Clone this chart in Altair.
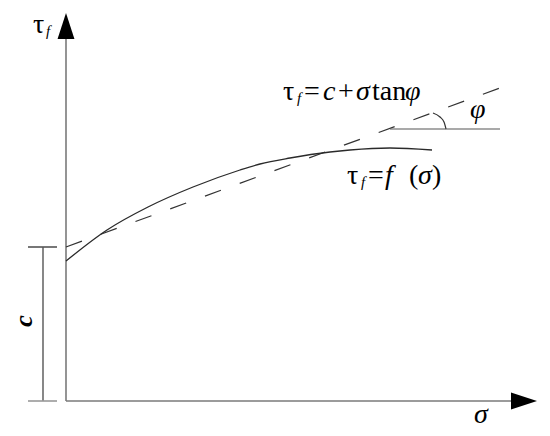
import altair as alt
import pandas as pd

# coordinates in diagram units (sigma to the right, tau upwards, origin at axis corner)
curve_sigma = [0, 41, 82, 127, 174, 194, 224, 264, 284, 324, 366]
curve_tau = [140, 171, 194, 214, 231, 237, 243, 249, 251, 253, 251]

dash_sigma = [0, 434]
dash_tau = [154, 313]

hline_sigma = [324, 434]
hline_tau = [272, 272]

arc_sigma = [367, 374, 378, 380]
arc_tau = [288, 284, 279, 272]

# axes and bracket segments: x, y, x2, y2
seg_x = [0, 0, -23, -38, -38]
seg_y = [0, 0, 0, 154, 0]
seg_x2 = [0, 445, -23, -9, -9]
seg_y2 = [362, 0, 154, 154, 0]
seg_col = ["#7a7a7a", "#7a7a7a", "#6a6a6a", "#555555", "#999999"]

# text pieces
norm_text = ["τ", "τ", "=", "+", "tan", "τ", "=", "(", ")"]
norm_x = [-33, 217, 238, 272, 306, 281, 302, 343, 366]
norm_y = [368, 301, 301, 301, 301, 217, 217, 217, 217]

ital_text = ["c", "σ", "φ", "f", "σ", "φ", "σ"]
ital_x = [257, 290, 339, 319, 352, 404, 408]
ital_y = [301, 301, 301, 217, 217, 283, -22]

sub_text = ["f", "f", "f"]
sub_x = [-20, 231, 295]
sub_y = [365, 298, 214]

XS = alt.Scale(domain=[-58, 476], nice=False, zero=False)
YS = alt.Scale(domain=[-27, 393], nice=False, zero=False)
FONT = "Times New Roman, Liberation Serif, DejaVu Serif, serif"


def X(f="x"):
    return alt.X(f"{f}:Q", scale=XS, axis=None)


def Y(f="y"):
    return alt.Y(f"{f}:Q", scale=YS, axis=None)


segs = pd.DataFrame({"x": seg_x, "y": seg_y, "x2": seg_x2, "y2": seg_y2, "c": seg_col})
seg_layer = alt.Chart(segs).mark_rule(strokeWidth=1.6).encode(
    x=X(), y=Y(), x2="x2:Q", y2="y2:Q", color=alt.Color("c:N", scale=None)
)

curve = alt.Chart(pd.DataFrame({"x": curve_sigma, "y": curve_tau})).mark_line(
    color="#2a2a2a", strokeWidth=1.3, interpolate="monotone"
).encode(x=X(), y=Y())

dash = alt.Chart(pd.DataFrame({"x": dash_sigma, "y": dash_tau})).mark_line(
    color="#333333", strokeWidth=1.2, strokeDash=[17, 20]
).encode(x=X(), y=Y())

hline = alt.Chart(pd.DataFrame({"x": hline_sigma, "y": hline_tau})).mark_line(
    color="#555555", strokeWidth=1.2
).encode(x=X(), y=Y())

arc = alt.Chart(pd.DataFrame({"x": arc_sigma, "y": arc_tau})).mark_line(
    color="#333333", strokeWidth=1.2, interpolate="monotone"
).encode(x=X(), y=Y())

arrow_up = alt.Chart(pd.DataFrame({"x": [0], "y": [375]})).mark_point(
    shape="M0,-1L0.65,1L-0.65,1Z", size=676, filled=True, color="black", opacity=1
).encode(x=X(), y=Y())

arrow_right = alt.Chart(pd.DataFrame({"x": [458], "y": [0]})).mark_point(
    shape="M1,0L-1,0.65L-1,-0.65Z", size=676, filled=True, color="black", opacity=1
).encode(x=X(), y=Y())

t_norm = alt.Chart(pd.DataFrame({"x": norm_x, "y": norm_y, "t": norm_text})).mark_text(
    font=FONT, fontSize=28, align="left", baseline="alphabetic", color="black"
).encode(x=X(), y=Y(), text="t:N")

t_ital = alt.Chart(pd.DataFrame({"x": ital_x, "y": ital_y, "t": ital_text})).mark_text(
    font=FONT, fontSize=28, fontStyle="italic", align="left", baseline="alphabetic", color="black"
).encode(x=X(), y=Y(), text="t:N")

t_sub = alt.Chart(pd.DataFrame({"x": sub_x, "y": sub_y, "t": sub_text})).mark_text(
    font=FONT, fontSize=15, fontStyle="italic", align="left", baseline="alphabetic", color="black"
).encode(x=X(), y=Y(), text="t:N")

t_c = alt.Chart(pd.DataFrame({"x": [-42], "y": [80], "t": ["c"]})).mark_text(
    font=FONT, fontSize=26, fontStyle="italic", fontWeight="bold", angle=270,
    align="center", baseline="middle", color="black"
).encode(x=X(), y=Y(), text="t:N")

chart = alt.layer(
    seg_layer, dash, curve, hline, arc, arrow_up, arrow_right, t_norm, t_ital, t_sub, t_c
).properties(width=534, height=420, padding=0, autosize="none", background="white").configure_view(strokeWidth=0)

chart.save("out.html", embed_options={"renderer": "svg", "actions": False})
